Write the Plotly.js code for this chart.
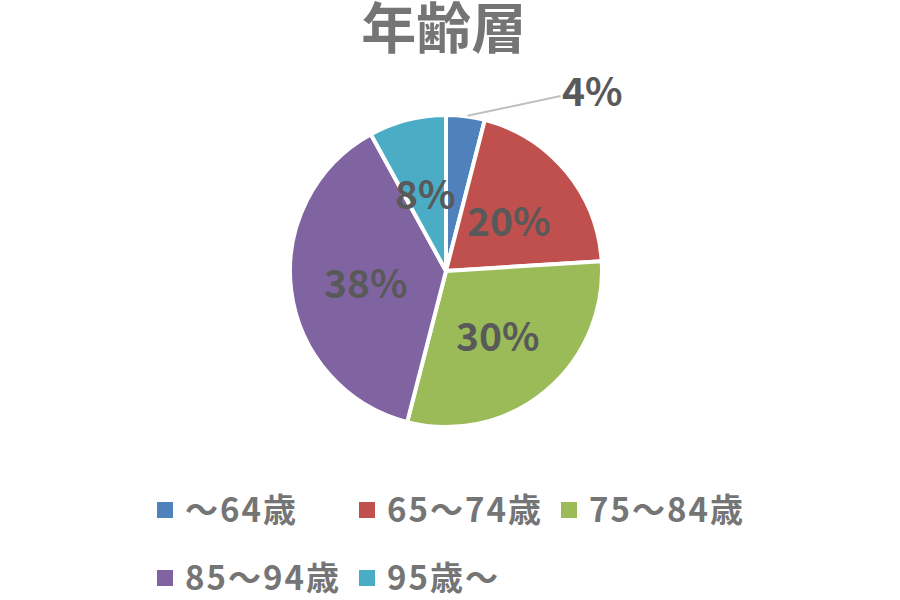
<!DOCTYPE html>
<html>
<head>
<meta charset="utf-8">
<script src="https://cdn.plot.ly/plotly-3.0.1.min.js"></script>
<style>
  html, body { margin: 0; padding: 0; background: #fff; }
  #chart { width: 900px; height: 600px; }
  /* legend: plotly sets the row pitch from font.size, the glyphs are drawn smaller */
  .legendtext {
    font-size: 33px !important;
    letter-spacing: 2px;
    transform: translateY(-7.5px);
  }
  /* bigger square swatches, no white outline from the slice borders */
  .legendpie {
    d: path("M8,8H-8V-8H8Z") !important;
    stroke-width: 0 !important;
  }
</style>
</head>
<body>
<div id="chart"></div>
<script>
// -----------------------------
// Data
// -----------------------------
const ageGroups = ["～64歳", "65～74歳", "75～84歳", "85～94歳", "95歳～"];
const shares = [4, 20, 30, 38, 8];
const sliceColors = ["#4f81bd", "#c0504d", "#9bbb59", "#8064a2", "#4bacc6"];
const chartTitle = "年齢層";

// -----------------------------
// Layout constants
// -----------------------------
const jpFont = "'Noto Sans CJK JP', 'Noto Sans', sans-serif";
const W = 900, H = 600;
const margin = { l: 145, r: 105, t: 0, b: 0, autoexpand: false };
const plotW = W - margin.l - margin.r;
const plotH = H - margin.t - margin.b;
const pieCenterPx = { x: 446, y: 271 };
const pieRadiusPx = 156;
const pieDomain = {
  x: [(pieCenterPx.x - margin.l - pieRadiusPx) / plotW, (pieCenterPx.x - margin.l + pieRadiusPx) / plotW],
  y: [(H - pieCenterPx.y - pieRadiusPx) / plotH, (H - pieCenterPx.y + pieRadiusPx) / plotH]
};

// pie geometry in paper units / pixels, same as plotly computes it
const pieCx = (pieDomain.x[0] + pieDomain.x[1]) / 2;
const pieCy = (pieDomain.y[0] + pieDomain.y[1]) / 2;
const pieR = Math.min((pieDomain.x[1] - pieDomain.x[0]) * plotW,
                      (pieDomain.y[1] - pieDomain.y[0]) * plotH) / 2;

// -----------------------------
// Percent labels (Excel style: big, not shrunk to fit)
// -----------------------------
const total = shares.reduce((a, b) => a + b, 0);
const labelFont = { family: jpFont, size: 39, color: "#595959", weight: "bold" };

let acc = 0;
const labelAnnotations = shares.map((v) => {
  const mid = ((acc + v / 2) / total) * 2 * Math.PI; // clockwise from 12 o'clock
  acc += v;
  const pct = Math.round((v / total) * 100) + "%";
  if (v / total < 0.05) {
    // small slice: label outside with a leader line
    return {
      xref: "paper", yref: "paper",
      x: pieCx + (pieR * Math.sin(mid)) / plotW,
      y: pieCy + (pieR * Math.cos(mid)) / plotH,
      text: pct,
      font: labelFont,
      showarrow: true,
      arrowhead: 0,
      arrowwidth: 2,
      arrowcolor: "#bfbfbf",
      standoff: 2,
      ax: 127,
      ay: -27
    };
  }
  const f = 0.52;
  return {
    xref: "paper", yref: "paper",
    x: pieCx + (f * pieR * Math.sin(mid)) / plotW,
    y: pieCy + (f * pieR * Math.cos(mid)) / plotH,
    text: pct,
    font: labelFont,
    showarrow: false,
    xanchor: "center",
    yanchor: "middle"
  };
});

const pieTrace = {
  type: "pie",
  labels: ageGroups,
  values: shares,
  sort: false,
  direction: "clockwise",
  rotation: 0,
  marker: { colors: sliceColors, line: { color: "#ffffff", width: 4 } },
  textinfo: "none",
  domain: pieDomain,
  hoverinfo: "label+percent"
};

const layout = {
  width: W,
  height: H,
  margin: margin,
  paper_bgcolor: "#ffffff",
  title: {
    text: chartTitle,
    x: 0.493,
    xanchor: "center",
    y: 0.952,
    yanchor: "middle",
    xref: "container",
    yref: "container",
    font: { family: jpFont, size: 55, color: "#757575", weight: "bold" }
  },
  annotations: labelAnnotations,
  showlegend: true,
  legend: {
    orientation: "h",
    x: 0,
    xanchor: "left",
    y: 0.215,
    yanchor: "top",
    entrywidth: 157,
    font: { family: jpFont, size: 50, color: "#757575", weight: "bold" }
  }
};

Plotly.newPlot("chart", [pieTrace], layout, { displayModeBar: false, staticPlot: true });
</script>
</body>
</html>
